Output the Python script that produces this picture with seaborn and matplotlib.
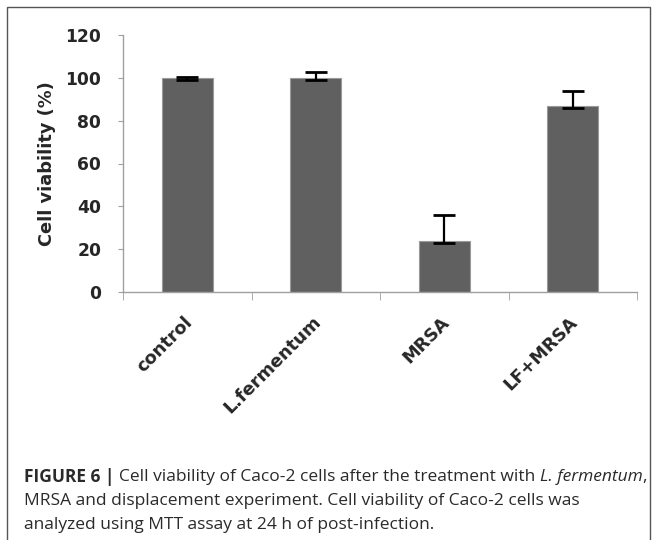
import matplotlib
matplotlib.use("Agg")
import matplotlib.pyplot as plt
import matplotlib.transforms as mtransforms
import seaborn as sns
from matplotlib.patches import Rectangle
from matplotlib.ticker import FixedLocator

# Data
groups = ["control", "L.fermentum", "MRSA", "LF+MRSA"]
viability = [100, 100, 24, 87]
err_low = [1, 1, 1, 1]
err_high = [0.5, 2.5, 12, 7]

caption_lines = [
    [("FIGURE 6 | ", "bold", "normal"),
     ("Cell viability of Caco-2 cells after the treatment with ", "normal", "normal"),
     ("L. fermentum", "normal", "italic"),
     (",", "normal", "normal")],
    [("MRSA and displacement experiment. Cell viability of Caco-2 cells was", "normal", "normal")],
    [("analyzed using MTT assay at 24 h of post-infection.", "normal", "normal")],
]

sns.set_style("white")
plt.rcParams["font.family"] = ["DejaVu Sans"]

fig = plt.figure(figsize=(6.57, 5.40), dpi=100)
ax = fig.add_axes([123 / 657, 248 / 540, 514 / 657, 257 / 540])

sns.barplot(x=groups, y=viability, color="#606060", width=0.4,
            edgecolor="#9a9a9a", linewidth=0.8, saturation=1, ax=ax)
ax.errorbar(range(len(groups)), viability, yerr=[err_low, err_high],
            fmt="none", ecolor="black", elinewidth=1.6, capsize=8, capthick=2)

ax.set_xlim(-0.5, len(groups) - 0.5)
ax.set_ylim(0, 120)
ax.set_yticks(range(0, 121, 20))
ax.set_ylabel("Cell viability (%)", fontsize=12.8, fontweight="bold", labelpad=7)

for side in ["top", "right"]:
    ax.spines[side].set_visible(False)
for side in ["left", "bottom"]:
    ax.spines[side].set_color("#a0a0a0")
    ax.spines[side].set_linewidth(1)

ax.tick_params(axis="y", which="major", left=True, length=3.6, color="#a0a0a0",
               labelsize=12.3, pad=12)
for lab in ax.get_yticklabels():
    lab.set_fontweight("bold")

ax.xaxis.set_minor_locator(FixedLocator([i - 0.5 for i in range(len(groups) + 1)]))
ax.tick_params(axis="x", which="major", bottom=False, length=0, pad=15)
ax.tick_params(axis="x", which="minor", bottom=True, length=6, color="#a0a0a0")
ax.set_xticks(range(len(groups)))
ax.set_xticklabels(groups, rotation=45, ha="right", rotation_mode="anchor",
                   fontsize=12.8, fontweight="bold")
# nudge the slanted labels a little to the left
shift = mtransforms.ScaledTranslation(-4 / 100, 0, fig.dpi_scale_trans)
for lab in ax.get_xticklabels():
    lab.set_transform(lab.get_transform() + shift)

# outer frame of the figure panel
fig.patches.append(Rectangle((7 / 657, -0.05), 643 / 657, 1.05 - 7 / 540,
                             transform=fig.transFigure, fill=False,
                             edgecolor="#555555", linewidth=1))

# caption with mixed styles, sized so the first line spans the panel width
fig.canvas.draw()
renderer = fig.canvas.get_renderer()
cap_font = ["Open Sans", "DejaVu Sans"]


def place_line(parts, yp, size, draw=True):
    x_px = 24
    made = []
    for txt, weight, style in parts:
        t = fig.text(x_px / 657, 1 - yp / 540, txt, fontsize=size,
                     family=cap_font, fontweight=weight, fontstyle=style,
                     color="#2a2a2a", va="center", ha="left")
        x_px += t.get_window_extent(renderer).width
        made.append(t)
    if not draw:
        for t in made:
            t.remove()
    return x_px


base = 11.0
end = place_line(caption_lines[0], 477, base, draw=False)
cap_size = base * (645 - 24) / (end - 24)

for line, yp in zip(caption_lines, [477, 501, 525]):
    place_line(line, yp, cap_size)

fig.savefig("out.png", dpi=100)
